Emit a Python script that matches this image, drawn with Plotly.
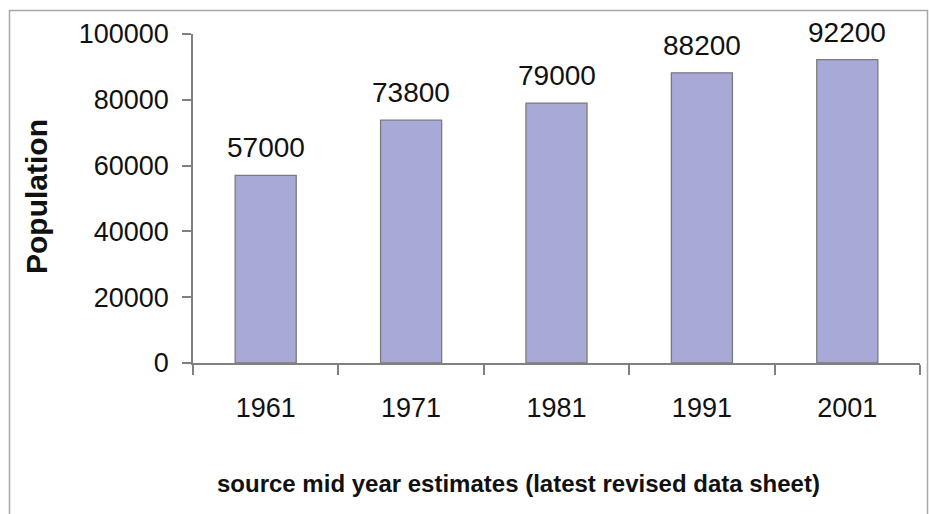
import plotly.graph_objects as go

years = ["1961", "1971", "1981", "1991", "2001"]
population = [57000, 73800, 79000, 88200, 92200]
y_ticks = [0, 20000, 40000, 60000, 80000, 100000]

W, H = 929, 514
L, R, T, B = 193, 9, 34, 151
pw, ph = W - L - R, H - T - B

def px_x(x):
    return (x - L) / pw

def px_y(y):
    return (H - B - y) / ph

FONT = "Liberation Sans, Arial, sans-serif"

fig = go.Figure()
fig.add_trace(go.Bar(
    x=years, y=population, width=0.42,
    marker=dict(color="#A9A9D7", line=dict(color="#7a7a7a", width=1.3)),
    hoverinfo="x+y",
))

annotations = []
for i, v in enumerate(population):
    annotations.append(dict(x=i, y=v, xref="x", yref="y", text=str(v),
                            showarrow=False, yanchor="bottom", yshift=10,
                            font=dict(size=28, color="#111111", family=FONT)))
annotations.append(dict(x=px_x(36), y=px_y(197), xref="paper", yref="paper",
                        text="<b>Population</b>", textangle=-90, showarrow=False,
                        xanchor="center", yanchor="middle",
                        font=dict(size=30, color="#111111", family=FONT)))
annotations.append(dict(x=px_x(518), y=px_y(484), xref="paper", yref="paper",
                        text="<b>source mid year estimates (latest revised data sheet)</b>",
                        showarrow=False, xanchor="center", yanchor="middle",
                        font=dict(size=24, color="#111111", family=FONT)))

fig.update_layout(
    width=W, height=H,
    margin=dict(l=L, r=R, t=T, b=B, pad=0),
    paper_bgcolor="white", plot_bgcolor="white",
    showlegend=False,
    font=dict(family=FONT, color="#111111"),
    annotations=annotations,
    shapes=[dict(type="rect", xref="paper", yref="paper",
                 x0=px_x(9.5), x1=px_x(927.5), y0=px_y(530), y1=px_y(10.5),
                 line=dict(color="#a8a8a8", width=1.5), layer="below")],
    xaxis=dict(type="category", categoryorder="array", categoryarray=years,
               range=[-0.5, len(years) - 0.5], autorange=False,
               tickson="boundaries", ticks="outside", ticklen=10,
               tickcolor="#808080", tickwidth=1.5, showline=True, linecolor="#808080",
               linewidth=1.5, showgrid=False, zeroline=False, tickangle=0,
               tickfont=dict(size=27, family=FONT, color="#111111"),
               ticklabelstandoff=20),
    yaxis=dict(range=[0, 100000], autorange=False, tickvals=y_ticks, tickformat="d",
               ticks="outside", ticklen=9,
               tickcolor="#808080", tickwidth=1.5, showline=True, linecolor="#808080",
               linewidth=1.5, showgrid=False, zeroline=False,
               tickfont=dict(size=27, family=FONT, color="#111111"),
               ticklabelstandoff=8),
)

fig.write_html("out.html")
